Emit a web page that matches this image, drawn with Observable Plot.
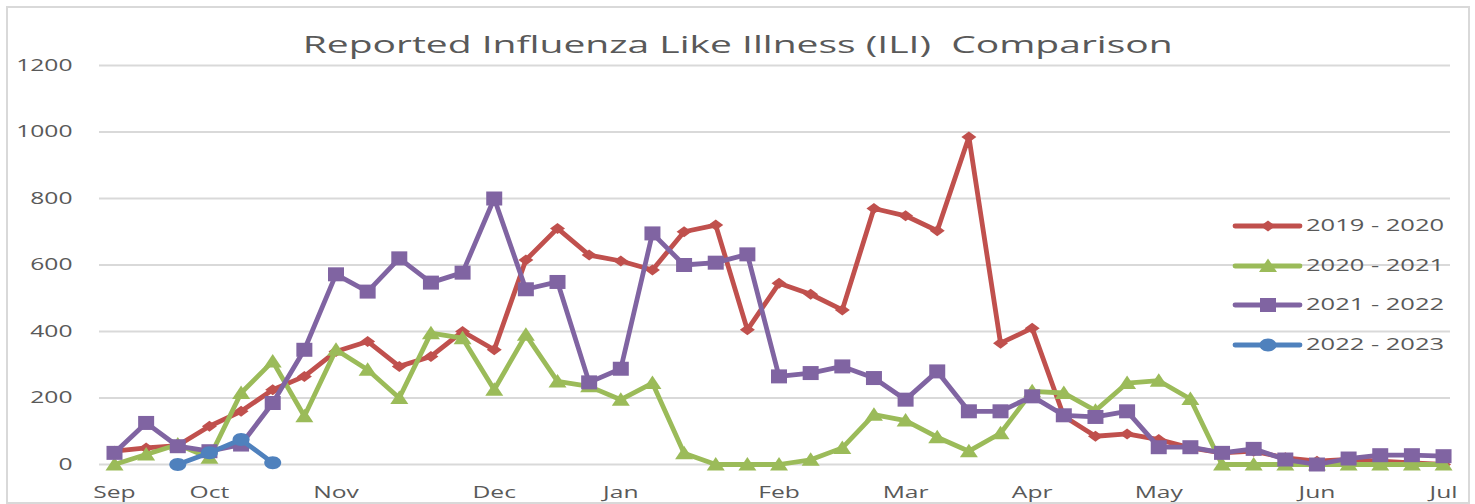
<!DOCTYPE html>
<html>
<head>
<meta charset="utf-8">
<script src="https://cdn.jsdelivr.net/npm/d3@7"></script>
<script src="https://cdn.jsdelivr.net/npm/@observablehq/plot@0.6"></script>
<style>
  html, body { margin: 0; padding: 0; background: #fff; }
  #wrap { position: relative; width: 1475px; height: 504px; overflow: hidden; font-family: "Open Sans", sans-serif; }
  #frame { position: absolute; left: 6px; top: 6px; width: 1460px; height: 494px; border: 2px solid #d9d9d9; box-sizing: content-box; pointer-events: none; }
  #chart { position: absolute; left: 0; top: 0; }
  #title { position: absolute; left: 0; width: 1475px; top: 27px; text-align: center; color: #595959; font-size: 24px; white-space: pre; }
  #title span { display: inline-block; transform-origin: center; }
  #legend { position: absolute; left: 1232px; top: 0; }
  .lg { position: absolute; left: 0; height: 20px; white-space: nowrap; }
  .lg svg { position: absolute; left: 0; top: 0; }
  .lg span { position: absolute; left: 74px; top: -3px; font-size: 17px; color: #595959; display: inline-block; transform-origin: left center; transform: scaleX(1.5); }
</style>
</head>
<body>
<div id="wrap">
  <div id="chart"></div>
  <div id="title"><span>Reported Influenza Like Illness (ILI)  Comparison</span></div>
  <div id="legend"></div>
  <div id="frame"></div>
</div>
<script>
// ---- data ----
const seriesNames = ["2019 - 2020", "2020 - 2021", "2021 - 2022", "2022 - 2023"];
const seriesColors = ["#C0504D", "#9BBB59", "#8064A2", "#4F81BD"];
const s2019 = [40, 50, 57, 115, 160, 225, 265, 340, 370, 295, 325, 400, 345, 615, 710, 630, 612, 585, 700, 720, 405, 545, 512, 465, 770, 748, 703, 985, 365, 410, 145, 85, 92, 75, 50, 35, 40, 20, 10, 15, 10, 5, 0];
const s2020 = [0, 30, 60, 20, 215, 310, 145, 345, 285, 200, 395, 380, 225, 390, 250, 235, 195, 245, 34, 0, 0, 0, 14, 50, 150, 132, 82, 40, 94, 220, 215, 162, 245, 252, 197, 0, 0, 0, 0, 0, 0, 0, 0];
const s2021 = [35, 125, 55, 40, 60, 185, 345, 572, 520, 620, 547, 577, 800, 527, 549, 247, 288, 695, 600, 607, 632, 265, 275, 295, 260, 195, 280, 160, 160, 205, 148, 143, 160, 52, 52, 35, 47, 15, 0, 18, 28, 28, 25];
const s2022 = [null, null, 0, 35, 75, 5];
const monthTickIndex = [0, 3, 7, 12, 16, 21, 25, 29, 33, 38, 42];
const monthLabels = ["Sep", "Oct", "Nov", "Dec", "Jan", "Feb", "Mar", "Apr", "May", "Jun", "Jul"];
const yTicks = [0, 200, 400, 600, 800, 1000, 1200];

// ---- marker shapes ----
function ellipsePath(c, rx, ry) {
  const k = 0.5523;
  c.moveTo(rx, 0);
  c.bezierCurveTo(rx, ry * k, rx * k, ry, 0, ry);
  c.bezierCurveTo(-rx * k, ry, -rx, ry * k, -rx, 0);
  c.bezierCurveTo(-rx, -ry * k, -rx * k, -ry, 0, -ry);
  c.bezierCurveTo(rx * k, -ry, rx, -ry * k, rx, 0);
  c.closePath();
}
const symDiamond = { draw(c) { c.moveTo(0, -5.5); c.lineTo(7.5, 0); c.lineTo(0, 5.5); c.lineTo(-7.5, 0); c.closePath(); } };
const symTriangle = { draw(c) { c.moveTo(0, -7.5); c.lineTo(9, 6); c.lineTo(-9, 6); c.closePath(); } };
const symSquare = { draw(c) { c.moveTo(-8, -7); c.lineTo(8, -7); c.lineTo(8, 7); c.lineTo(-8, 7); c.closePath(); } };
const symCircle = { draw(c) { ellipsePath(c, 8.5, 6.5); } };
const symbols = [symDiamond, symTriangle, symSquare, symCircle];

const allSeries = [s2019, s2020, s2021, s2022];
const tables = allSeries.map((vals, k) =>
  vals.map((v, i) => ({ i, v, name: seriesNames[k] })).filter(d => d.v !== null)
);

const marks = [
  Plot.ruleY(yTicks, { stroke: "#d9d9d9", strokeWidth: 2 }),
  Plot.axisY({ ticks: yTicks, tickFormat: d => String(d), tickSize: 0, tickPadding: 27, fontSize: 17, label: null }),
  Plot.axisX({ ticks: monthTickIndex, tickFormat: i => monthLabels[monthTickIndex.indexOf(i)], tickSize: 0, tickPadding: 21, fontSize: 17, label: null })
];
tables.forEach((t, k) => {
  marks.push(Plot.line(t, { x: "i", y: "v", stroke: seriesColors[k], strokeWidth: 4.8, strokeLinejoin: "round", strokeLinecap: "round" }));
  marks.push(Plot.dot(t, { x: "i", y: "v", symbol: symbols[k], fill: seriesColors[k], stroke: "none", r: 5 }));
});

const chart = Plot.plot({
  width: 1475,
  height: 504,
  marginLeft: 99,
  marginRight: 25,
  marginTop: 65,
  marginBottom: 40,
  style: { fontFamily: "Open Sans, sans-serif", color: "#595959", background: "transparent", overflow: "visible" },
  x: { type: "linear", domain: [-0.474, 42.22] },
  y: { domain: [0, 1200] },
  marks
});
document.getElementById("chart").appendChild(chart);

// stretch tick labels horizontally to mimic the wide lettering of the original
d3.select(chart).selectAll("g[aria-label$='tick label'] text").each(function () {
  const t = this.getAttribute("transform") || "";
  this.setAttribute("transform", t + " scale(1.45,1)");
});

// title stretch to target width
const ts = document.querySelector("#title span");
const tw = ts.getBoundingClientRect().width;
ts.style.transform = "scaleX(" + (870 / tw) + ")";

// legend
const legend = d3.select("#legend");
const rowY = [226, 266, 305, 345];
seriesNames.forEach((name, k) => {
  const row = legend.append("div").attr("class", "lg").style("top", (rowY[k] - 10) + "px");
  const svg = row.append("svg").attr("width", 72).attr("height", 20);
  svg.append("line").attr("x1", 3).attr("x2", 68).attr("y1", 10).attr("y2", 10)
    .attr("stroke", seriesColors[k]).attr("stroke-width", 4.8).attr("stroke-linecap", "round");
  svg.append("path").attr("transform", "translate(36,10)")
    .attr("d", d3.symbol(symbols[k])()).attr("fill", seriesColors[k]);
  row.append("span").text(name);
});
</script>
</body>
</html>
